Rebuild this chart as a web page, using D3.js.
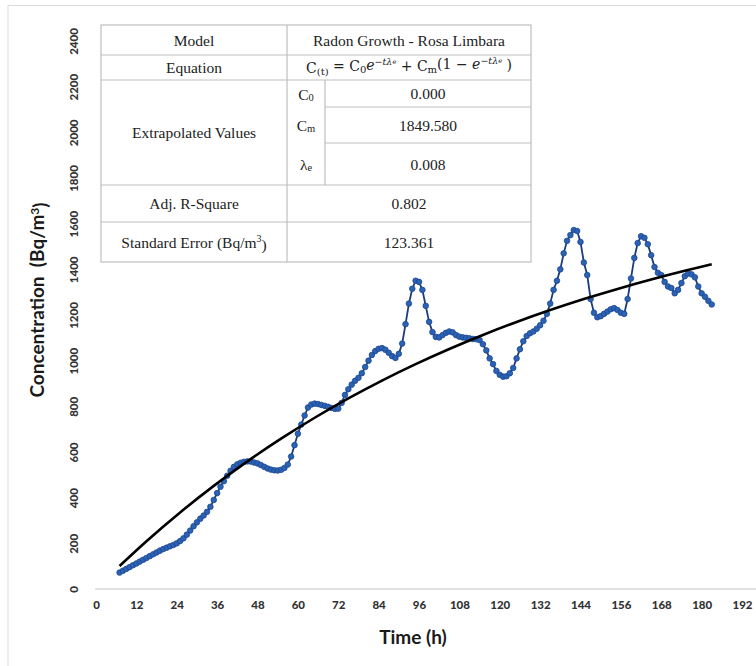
<!DOCTYPE html>
<html><head><meta charset="utf-8">
<script src="https://cdn.jsdelivr.net/npm/d3@7"></script>
<style>
html,body{margin:0;padding:0;background:#fff;}
svg{display:block;}
</style></head>
<body><svg id="chart" width="756" height="666"></svg>
<script>
// ---- data ----
const startHour = 7;
const concentration = [72,80,88,96,104,112,120,128,136,144,152,160,168,175,181,187,193,200,210,222,238,256,275,292,308,322,338,360,390,420,448,472,496,518,535,546,553,557,559,558,554,550,543,535,528,523,520,519,522,530,545,580,630,680,720,760,795,808,812,810,806,802,798,793,789,790,815,850,875,895,912,925,945,972,1000,1025,1042,1052,1055,1048,1035,1020,1012,1030,1075,1160,1250,1315,1350,1345,1310,1240,1170,1125,1104,1102,1112,1122,1128,1124,1112,1105,1102,1100,1098,1095,1094,1090,1072,1045,1010,985,955,938,930,932,945,968,1010,1050,1085,1108,1120,1128,1140,1155,1175,1205,1250,1310,1350,1400,1470,1525,1550,1572,1568,1520,1430,1375,1270,1210,1190,1195,1205,1215,1225,1230,1222,1210,1205,1270,1360,1450,1515,1545,1538,1510,1462,1410,1385,1375,1345,1325,1318,1295,1310,1340,1370,1382,1378,1365,1325,1295,1280,1262,1246];
const timeHours = concentration.map((_, i) => startHour + i);
const fitTime   = [7,15,25,35,45,55,65,75,85,95,105,115,125,135,145,155,165,175,183];
const fitValues = [100.7,209.2,335.3,451.7,559.2,658.4,750.0,834.5,912.6,984.6,1051.1,1112.5,1169.2,1221.5,1269.8,1314.4,1355.5,1393.5,1421.8];
const xTicks = [0,12,24,36,48,60,72,84,96,108,120,132,144,156,168,180,192];
const yTicks = [0,200,400,600,800,1000,1200,1400,1600,1800,2000,2200,2400];
const tableLabels = ["Model","Equation","Extrapolated Values","Adj. R-Square","Standard Error (Bq/m³)"];
const paramNames = ["C0","Cm","λe"];
const paramValues = ["0.000","1849.580","0.008"];
const modelName = "Radon Growth - Rosa Limbara";
const adjR2 = "0.802";
const stdErr = "123.361";

// ---- chart ----
const svg = d3.select("#chart");
svg.append("path").attr("d","M8,666 L8,5.5 L756,5.5").attr("fill","none").attr("stroke","#d9d9d9").attr("stroke-width",1);

const x = d3.scaleLinear().domain([0,192]).range([96,742]);
const y = d3.scaleLinear().domain([0,2400]).range([589,41]);

svg.append("line").attr("x1",95).attr("x2",756).attr("y1",589).attr("y2",589)
  .attr("stroke","#d9d9d9").attr("stroke-width",1.5);

const tickFont = "Lato, 'Open Sans', sans-serif";
const xAxis = d3.axisBottom(x).tickValues(xTicks).tickFormat(d3.format("d")).tickSize(0).tickPadding(0);
const gx = svg.append("g").attr("transform","translate(0,601)").call(xAxis);
gx.select(".domain").remove();
gx.selectAll("text").attr("font-family",tickFont).attr("font-weight","900")
  .attr("font-size","11.5px").attr("fill","#333").attr("dy","0.71em");

const yAxis = d3.axisLeft(y).tickValues(yTicks).tickFormat(d3.format("d")).tickSize(0).tickPadding(0);
const gy = svg.append("g").attr("transform","translate(73,0)").call(yAxis);
gy.select(".domain").remove();
gy.selectAll("text")
  .attr("font-family",tickFont).attr("font-weight","900").attr("font-size","11.5px").attr("fill","#333")
  .attr("x",0).attr("dy",null).attr("text-anchor","middle").attr("dominant-baseline","central")
  .attr("transform","rotate(-90)");

svg.append("text").attr("x",413).attr("y",644).attr("text-anchor","middle")
  .attr("font-family",tickFont).attr("font-weight","bold").attr("font-size","19px").attr("fill","#1a1a1a")
  .text("Time (h)");
const yt = svg.append("text").attr("transform","translate(44,300) rotate(-90)").attr("text-anchor","middle")
  .attr("font-family",tickFont).attr("font-weight","bold").attr("font-size","19px").attr("fill","#1a1a1a");
yt.append("tspan").text("Concentration\u00a0\u00a0(Bq/m");
yt.append("tspan").attr("dy","-0.45em").attr("font-size","12px").text("3");
yt.append("tspan").attr("dy","0.45em").text(")");

// data series
const pts = timeHours.map((t,i)=>[t,concentration[i]]);
svg.append("path").datum(pts).attr("fill","none").attr("stroke","#1b3c78").attr("stroke-width",1.8)
  .attr("d", d3.line().x(d=>x(d[0])).y(d=>y(d[1])));
svg.append("g").selectAll("circle").data(pts).join("circle")
  .attr("cx",d=>x(d[0])).attr("cy",d=>y(d[1])).attr("r",2.8)
  .attr("fill","#2c62b4").attr("stroke","#1b4690").attr("stroke-width",0.8);

// fit curve
const fitPts = fitTime.map((t,i)=>[t,fitValues[i]]);
svg.append("path").datum(fitPts).attr("fill","none").attr("stroke","#000").attr("stroke-width",2.6)
  .attr("d", d3.line().curve(d3.curveMonotoneX).x(d=>x(d[0])).y(d=>y(d[1])));

// ---- table ----
const L=101,R=531,CA=287,CB=325;
const rowsY=[25,55,80,107,143,185,222,262];
const tg = svg.append("g");
tg.append("rect").attr("x",L).attr("y",rowsY[0]).attr("width",R-L).attr("height",rowsY[7]-rowsY[0])
  .attr("fill","#fff").attr("stroke","#bfbfbf").attr("stroke-width",1.2);
const lines = [
  [L,rowsY[1],R,rowsY[1]],[L,rowsY[2],R,rowsY[2]],
  [CB,rowsY[3],R,rowsY[3]],[CB,rowsY[4],R,rowsY[4]],
  [L,rowsY[5],R,rowsY[5]],[L,rowsY[6],R,rowsY[6]],
  [CA,rowsY[0],CA,rowsY[7]],[CB,rowsY[2],CB,rowsY[5]]
];
tg.selectAll("line").data(lines).join("line")
  .attr("x1",d=>d[0]).attr("y1",d=>d[1]).attr("x2",d=>d[2]).attr("y2",d=>d[3])
  .attr("stroke","#bfbfbf").attr("stroke-width",1.2);

const serif = "'Liberation Serif','Times New Roman',serif";
function txt(xp,yp,s){
  return tg.append("text").attr("x",xp).attr("y",yp).attr("text-anchor","middle")
    .attr("dominant-baseline","central").attr("font-family",serif).attr("font-size","15.5px").attr("fill","#222").text(s);
}
const c1=(L+CA)/2, c2=(CA+R)/2, c3=(CB+R)/2, cp=(CA+CB)/2;
const mids=[(rowsY[0]+rowsY[1])/2,(rowsY[1]+rowsY[2])/2,(rowsY[2]+rowsY[5])/2,(rowsY[5]+rowsY[6])/2,(rowsY[6]+rowsY[7])/2];
txt(c1,mids[0],tableLabels[0]);
txt(c1,mids[1],tableLabels[1]);
txt(c1,mids[2],tableLabels[2]);
txt(c1,mids[3],tableLabels[3]);
const se = txt(c1,mids[4],"");
se.append("tspan").text("Standard Error (Bq/m");
se.append("tspan").attr("dy","-0.4em").attr("font-size","10px").text("3");
se.append("tspan").attr("dy","0.4em").text(")");
txt(c2,mids[0],modelName);
txt(c2,mids[3],adjR2);
txt(c2,mids[4],stdErr);

const pMid=[(rowsY[2]+rowsY[3])/2,(rowsY[3]+rowsY[4])/2,(rowsY[4]+rowsY[5])/2];
paramNames.forEach((p,i)=>{
  const t = txt(cp,pMid[i],"");
  t.append("tspan").text(p[0]);
  t.append("tspan").attr("dy","0.3em").attr("font-size","10.5px").text(p.slice(1));
  txt(c3,pMid[i],paramValues[i]);
});

// equation
const eq = tg.append("text").attr("x",c2).attr("y",mids[1]).attr("text-anchor","middle")
  .attr("dominant-baseline","central").attr("font-family","'DejaVu Serif',serif").attr("font-size","14px").attr("fill","#222");
eq.append("tspan").text("C");
eq.append("tspan").attr("dy","0.3em").attr("font-size","10px").text("(t)");
eq.append("tspan").attr("dy","-0.3em").text(" =   C");
eq.append("tspan").attr("dy","0.3em").attr("font-size","10px").text("0");
eq.append("tspan").attr("dy","-0.3em").attr("font-style","italic").text("e");
eq.append("tspan").attr("dy","-0.45em").attr("font-size","9.5px").attr("font-style","italic").text("−tλ");
eq.append("tspan").attr("dy","0.2em").attr("font-size","6.5px").attr("font-style","italic").text("e");
eq.append("tspan").attr("dy","0.25em").text(" + C");
eq.append("tspan").attr("dy","0.3em").attr("font-size","10px").text("m");
eq.append("tspan").attr("dy","-0.3em").text("(1 − ");
eq.append("tspan").attr("font-style","italic").text("e");
eq.append("tspan").attr("dy","-0.45em").attr("font-size","9.5px").attr("font-style","italic").text("−tλ");
eq.append("tspan").attr("dy","0.2em").attr("font-size","6.5px").attr("font-style","italic").text("e");
eq.append("tspan").attr("dy","0.25em").text(" )");
</script></body></html>
